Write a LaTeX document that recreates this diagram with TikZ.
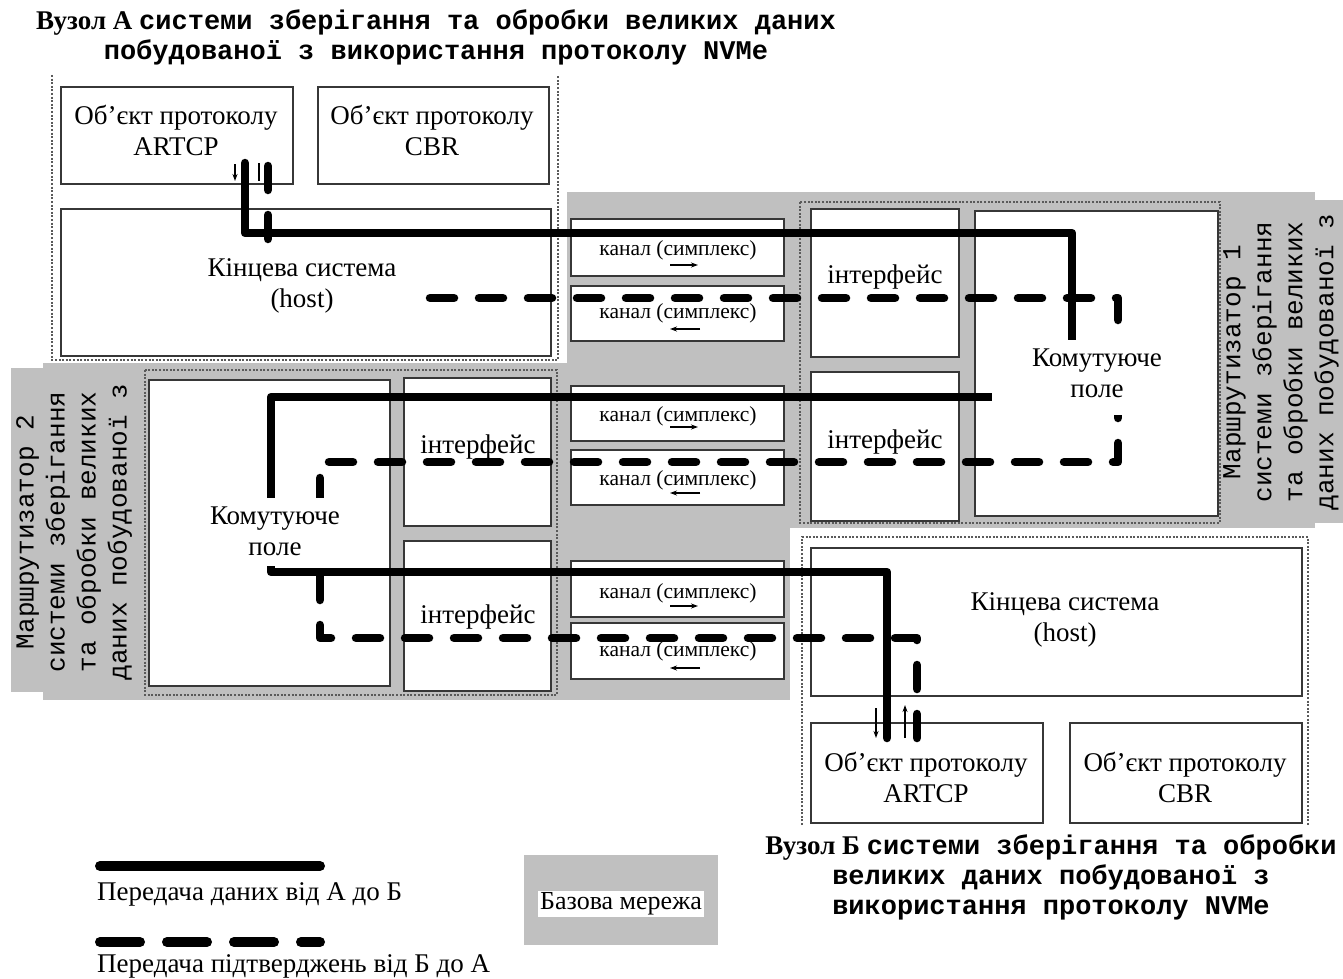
\documentclass[tikz,border=0pt]{standalone}
\usepackage{fontspec}
\setmainfont{Liberation Serif}
\newfontfamily\monofam{Liberation Mono}
\usetikzlibrary{arrows.meta}
\definecolor{basegray}{RGB}{192,192,192}
\definecolor{edgegray}{RGB}{55,55,55}
\definecolor{framegray}{RGB}{90,90,90}
\begin{document}
\begin{tikzpicture}[x=1pt,y=-1pt,
  box/.style={draw=edgegray, line width=2pt, fill=white, inner sep=0pt, anchor=north west},
  frame/.style={draw=framegray, line width=1.3pt, dash pattern=on 2pt off 1.6pt},
  data/.style={line width=8.5pt, line cap=round, line join=round},
  ack/.style={line width=8.5pt, line cap=round, line join=round, dash pattern=on 24pt off 25pt},
  lbl/.style={font=\fontsize{27}{31}\selectfont, align=center, inner sep=0pt},
  chlbl/.style={font=\fontsize{21.5}{24}\selectfont, inner sep=0pt},
  rlbl/.style={font=\monofam\fontsize{26}{31}\selectfont, align=center, rotate=90, inner sep=0pt},
  ttl/.style={font=\fontsize{27}{30}\selectfont, align=center, inner sep=0pt},
  mask/.style={fill=white, inner sep=0pt},
  dir/.style={line width=1.3pt, -{Stealth[length=7pt,width=5pt]}},
  leglbl/.style={font=\fontsize{27}{30}\selectfont, anchor=west, inner sep=0pt},
]
\useasboundingbox (0,0) rectangle (1343,979);

% base network (gray)
\fill[basegray] (567,192) rectangle (1315,528);
\fill[basegray] (43,363) rectangle (790,700);
\fill[basegray] (567,192) rectangle (790,700);
\fill[basegray] (1217,200) rectangle (1343,523);
\fill[basegray] (11,368) rectangle (145,692);

% frames
\draw[frame] (52,75) -- (52,360) -- (558,360) -- (558,75);
\draw[frame] (800,202) rectangle (1220,523);
\draw[frame] (145,370) rectangle (557,695);
\draw[frame] (802,825) -- (802,537) -- (1308,537) -- (1308,825);

% node A boxes
\node[box, minimum width=232pt, minimum height=97pt] (artA) at (60,86) {};
\node[box, minimum width=231pt, minimum height=97pt] (cbrA) at (317,86) {};
\node[box, minimum width=490pt, minimum height=147pt] (hostA) at (60,208) {};

% channels
\node[box, minimum width=213pt, minimum height=57pt] (ch1) at (570,218) {};
\node[box, minimum width=213pt, minimum height=55pt] (ch2) at (570,285) {};
\node[box, minimum width=213pt, minimum height=55pt] (ch3) at (570,385) {};
\node[box, minimum width=213pt, minimum height=55pt] (ch4) at (570,449) {};
\node[box, minimum width=213pt, minimum height=56pt] (ch5) at (570,560) {};
\node[box, minimum width=213pt, minimum height=56pt] (ch6) at (570,622) {};

% router 1
\node[box, minimum width=148pt, minimum height=148pt] (ifA) at (810,208) {};
\node[box, minimum width=148pt, minimum height=149pt] (ifB) at (810,371) {};
\node[box, minimum width=243pt, minimum height=305pt] (swA) at (974,210) {};

% router 2
\node[box, minimum width=241pt, minimum height=306pt] (swB) at (148,379) {};
\node[box, minimum width=147pt, minimum height=148pt] (ifC) at (403,377) {};
\node[box, minimum width=147pt, minimum height=150pt] (ifD) at (403,540) {};

% node B boxes
\node[box, minimum width=491pt, minimum height=148pt] (hostB) at (810,547) {};
\node[box, minimum width=232pt, minimum height=100pt] (artB) at (810,722) {};
\node[box, minimum width=232pt, minimum height=100pt] (cbrB) at (1069,722) {};

% connectors
\coordinate (dA) at (245,163);
\coordinate (dB) at (887,738);
\coordinate (aB) at (917,738);
\coordinate (aA) at (268,163);
\draw[data] (dA) -- (245,233) -- (1072,233) -- (1072,397) -- (271,397) -- (271,572) -- (887,572) -- (dB);
\draw[ack] (aB) -- (917,638) -- (320,638) -- (320,462) -- (1118,462) -- (1118,298) -- (268,298) -- (aA);

% direction marks
\draw[dir] (235,164) -- (235,181);
\draw[line width=1.3pt] (259,163) -- (259,181);
\draw[dir] (876,708) -- (876,738);
\draw[dir] (905,738) -- (905,705);

\draw[dir] (670,265) -- (698,265);
\draw[dir] (700,329) -- (670,329);
\draw[dir] (670,427) -- (698,427);
\draw[dir] (700,493) -- (670,493);
\draw[dir] (670,606) -- (698,606);
\draw[dir] (700,668) -- (670,668);

% masks
\node[mask, minimum width=232pt, minimum height=70pt] (hostAm) at (302,287) {};
\node[mask, minimum width=210pt, minimum height=75pt] (swAm) at (1097,377.5) {};
\node[mask, minimum width=210pt, minimum height=68pt] (swBm) at (275,532) {};

% texts
\node[lbl] (artAt) at (176,130) {Об’єкт протоколу\\ARTCP};
\node[lbl] (cbrAt) at (432,130) {Об’єкт протоколу\\CBR};
\node[lbl] (hostAt) at (302,286) {Кінцева система\\(host)};
\node[lbl] (ifAt) at (885,277) {інтерфейс};
\node[lbl] (ifBt) at (885,442) {інтерфейс};
\node[lbl] (ifCt) at (478,447) {інтерфейс};
\node[lbl] (ifDt) at (478,617) {інтерфейс};
\node[lbl] (swAt) at (1097,373) {Комутуюче\\поле};
\node[lbl] (swBt) at (275,531) {Комутуюче\\поле};
\node[lbl] (hostBt) at (1065,620) {Кінцева система\\(host)};
\node[lbl] (artBt) at (926,777) {Об’єкт протоколу\\ARTCP};
\node[lbl] (cbrBt) at (1185,777) {Об’єкт протоколу\\CBR};

\node[chlbl] (ch1t) at (678,250) {канал (симплекс)};
\node[chlbl] (ch2t) at (678,313) {канал (симплекс)};
\node[chlbl] (ch3t) at (678,416) {канал (симплекс)};
\node[chlbl] (ch4t) at (678,480) {канал (симплекс)};
\node[chlbl] (ch5t) at (678,593) {канал (симплекс)};
\node[chlbl] (ch6t) at (678,651) {канал (симплекс)};

\node[rlbl] (r1t) at (1281,362) {Маршрутизатор 1\\системи зберігання\\та обробки великих\\даних побудованої з};
\node[rlbl] (r2t) at (74,532) {Маршрутизатор 2\\системи зберігання\\та обробки великих\\даних побудованої з};

\node[ttl] (titleA) at (436,37) {{\bfseries Вузол А} {\monofam\bfseries системи зберігання та обробки великих даних}\\{\monofam\bfseries побудованої з використання протоколу NVMe}};
\node[ttl] (titleB) at (1051,877) {{\bfseries Вузол Б} {\monofam\bfseries системи зберігання та обробки}\\{\monofam\bfseries великих даних побудованої з}\\{\monofam\bfseries використання протоколу NVMe}};

% legend
\coordinate (legSa) at (100,866);
\coordinate (legSb) at (320,866);
\coordinate (legDa) at (100,942);
\coordinate (legDb) at (320,942);
\draw[line width=10pt, line cap=round] (legSa) -- (legSb);
\draw[line width=10pt, line cap=round, dash pattern=on 40pt off 27pt] (legDa) -- (legDb);
\node[leglbl] (legSt) at (97,894) {Передача даних від А до Б};
\node[leglbl] (legDt) at (97,966) {Передача підтверджень від Б до А};
\node[fill=basegray, minimum width=194pt, minimum height=90pt, inner sep=0pt] (legG) at (621,900) {};
\node[fill=white, inner sep=2pt, font=\fontsize{26}{30}\selectfont] (legGt) at (621,904) {Базова мережа};
\end{tikzpicture}
\end{document}
